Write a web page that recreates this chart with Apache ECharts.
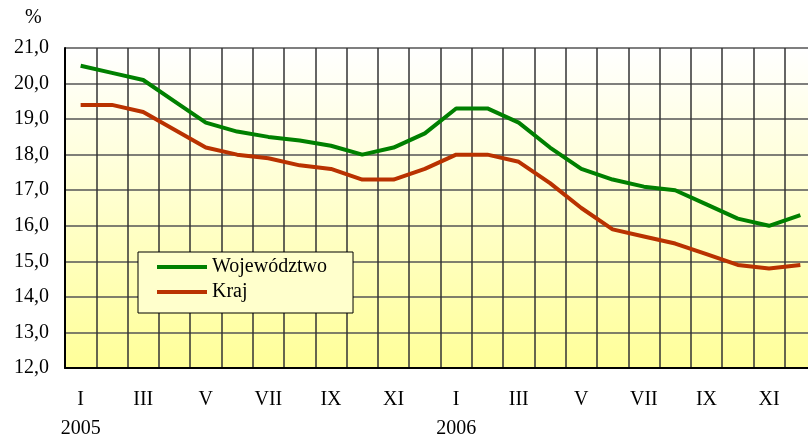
<!DOCTYPE html>
<html>
<head>
<meta charset="utf-8">
<script src="https://cdn.jsdelivr.net/npm/echarts@6/dist/echarts.min.js"></script>
<style>
  html, body { margin: 0; padding: 0; background: #fff; }
  #chart { width: 808px; height: 437px; }
</style>
</head>
<body>
<div id="chart"></div>
<script>
const months = ['I', 'II', 'III', 'IV', 'V', 'VI', 'VII', 'VIII', 'IX', 'X', 'XI', 'XII',
  'I', 'II', 'III', 'IV', 'V', 'VI', 'VII', 'VIII', 'IX', 'X', 'XI', 'XII']
const years = { 0: '2005', 12: '2006' }
const wojewodztwo = [20.5, 20.3, 20.1, 19.5, 18.9, 18.65, 18.5, 18.4, 18.25, 18.0, 18.2, 18.6,
  19.3, 19.3, 18.9, 18.2, 17.6, 17.3, 17.1, 17.0, 16.6, 16.2, 16.0, 16.3]
const kraj = [19.4, 19.4, 19.2, 18.7, 18.2, 18.0, 17.9, 17.7, 17.6, 17.3, 17.3, 17.6,
  18.0, 18.0, 17.8, 17.2, 16.5, 15.9, 15.7, 15.5, 15.2, 14.9, 14.8, 14.9]

const serif = 'Liberation Serif'

const chart = echarts.init(document.getElementById('chart'))

chart.setOption({
  animation: false,
  textStyle: { fontFamily: serif },
  grid: {
    left: 65,
    top: 48,
    width: 751,
    height: 320,
    outerBoundsMode: 'none',
    show: true,
    borderWidth: 0,
    backgroundColor: {
      type: 'linear', x: 0, y: 0, x2: 0, y2: 1,
      colorStops: [
        { offset: 0, color: '#ffffff' },
        { offset: 1, color: '#ffff99' },
      ],
    },
  },
  graphic: [
    {
      type: 'text',
      left: 25,
      top: 8,
      style: { text: '%', font: '20px "Liberation Serif"', fill: '#000' },
    },
  ],
  legend: {
    orient: 'vertical',
    left: 138,
    top: 252,
    padding: [5, 26, 11, 19],
    icon: 'rect',
    itemWidth: 50,
    itemHeight: 4,
    itemGap: 5,
    backgroundColor: '#ffffcc',
    borderColor: '#000',
    borderWidth: 1,
    textStyle: { fontFamily: serif, fontSize: 20, lineHeight: 20, color: '#000' },
    data: ['Województwo', 'Kraj'],
  },
  xAxis: {
    type: 'category',
    data: months,
    boundaryGap: true,
    axisLine: { lineStyle: { color: '#000', width: 2 } },
    axisTick: { show: false },
    axisLabel: {
      interval: 1,
      margin: 17,
      color: '#000',
      fontFamily: serif,
      fontSize: 20,
      lineHeight: 29,
      formatter: (v, i) => (years[i] ? v + '\n' + years[i] : v),
    },
    splitLine: { show: true, interval: 0, lineStyle: { color: '#333', width: 1.5 } },
  },
  yAxis: {
    type: 'value',
    min: 12,
    max: 21,
    interval: 1,
    axisLine: { show: true, lineStyle: { color: '#000', width: 2 } },
    axisTick: { show: false },
    axisLabel: {
      margin: 16,
      color: '#000',
      fontFamily: serif,
      fontSize: 20,
      formatter: (v) => v.toFixed(1).replace('.', ','),
    },
    splitLine: { lineStyle: { color: '#555', width: 1.5 } },
  },
  series: [
    {
      name: 'Województwo',
      type: 'line',
      data: wojewodztwo,
      symbol: 'none',
      lineStyle: { color: '#008000', width: 4 },
      itemStyle: { color: '#008000' },
    },
    {
      name: 'Kraj',
      type: 'line',
      data: kraj,
      symbol: 'none',
      lineStyle: { color: '#b93200', width: 4 },
      itemStyle: { color: '#b93200' },
    },
  ],
})
</script>
</body>
</html>
